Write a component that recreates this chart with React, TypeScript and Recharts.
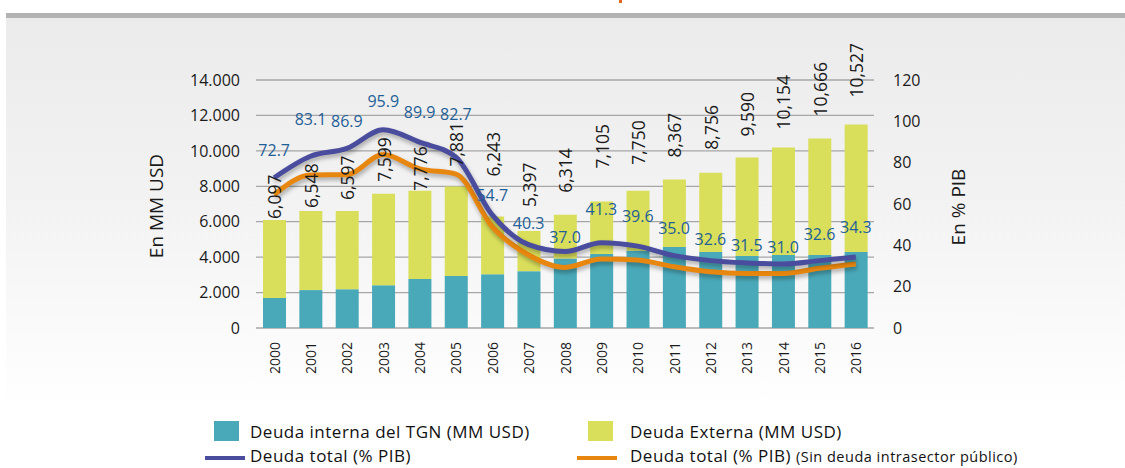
import React from 'react';
import {
  ComposedChart,
  Bar,
  Line,
  XAxis,
  YAxis,
  CartesianGrid,
  LabelList
} from 'recharts';

const years = ['2000', '2001', '2002', '2003', '2004', '2005', '2006', '2007', '2008', '2009', '2010', '2011', '2012', '2013', '2014', '2015', '2016'];
const deudaInterna = [1700, 2140, 2190, 2420, 2760, 2930, 3040, 3210, 3930, 4180, 4360, 4570, 4290, 4060, 4120, 4120, 4290];
const deudaExterna = [4400, 4470, 4410, 5160, 4990, 5060, 3250, 2270, 2460, 2960, 3390, 3820, 4480, 5560, 6070, 6580, 7200];
const totalLabels = ['6,097', '6,548', '6,597', '7,599', '7,776', '7,881', '6,243', '5,397', '6,314', '7,105', '7,750', '8,367', '8,756', '9,590', '10,154', '10,666', '10,527'];
const deudaTotalPib = [72.7, 83.1, 86.9, 95.9, 89.9, 82.7, 54.7, 40.3, 37.0, 41.3, 39.6, 35.0, 32.6, 31.5, 31.0, 32.6, 34.3];
const deudaSinIntra = [64.5, 74.0, 74.2, 83.9, 77.0, 74.5, 49.0, 35.3, 29.3, 33.4, 32.9, 29.6, 27.2, 26.4, 26.4, 28.9, 31.0];
const leftTicks = [0, 2000, 4000, 6000, 8000, 10000, 12000, 14000];
const rightTicks = [0, 20, 40, 60, 80, 100, 120];

// hand nudges for the data labels (the source had them dragged around by hand)
const pibLabelLift = [28, 37, 27, 29, 30, 43, 20, 22, 15, 34, 30, 28, 22, 18, 17, 27, 30];
const totalLabelGap = [1, 3, 11, 12, 0, 20, 40, 24, 22, 33, 26, 22, 23, 21, 18, 22, 27];

const data = years.map((year, i) => ({
  year,
  interna: deudaInterna[i],
  externa: deudaExterna[i],
  total: totalLabels[i],
  pib: deudaTotalPib[i],
  pibSin: deudaSinIntra[i],
}));

const FONT = '"Open Sans", sans-serif';
const TEAL = '#4aa9b9';
const LIME = '#d9df5b';
const BLUE = '#4a4c9d';
const ORANGE = '#e8870f';

const fmtThousands = (v: number) => String(v).replace(/\B(?=(\d{3})+(?!\d))/g, '.');

const YearTick = (props: any) => {
  const { x, y, payload } = props;
  return (
    <text
      x={x}
      y={y}
      transform={`rotate(-90 ${x} ${y})`}
      textAnchor="end"
      dominantBaseline="central"
      fontFamily={FONT}
      fontSize={14}
      fill="#1a1a1a"
    >
      {payload.value}
    </text>
  );
};

const TotalLabel = (props: any) => {
  const { x, y, width, value, index } = props;
  const cx = x + width / 2;
  const cy = y - (totalLabelGap[index] ?? 20);
  return (
    <text
      x={cx}
      y={cy}
      transform={`rotate(-90 ${cx} ${cy})`}
      textAnchor="start"
      dominantBaseline="central"
      fontFamily={FONT}
      fontSize={17.5}
      fill="#1a1a1a"
    >
      {value}
    </text>
  );
};

const PibLabel = (props: any) => {
  const { x, y, value, index } = props;
  return (
    <text
      x={x}
      y={y - (pibLabelLift[index] ?? 27)}
      textAnchor="middle"
      dominantBaseline="central"
      fontFamily={FONT}
      fontSize={16}
      fill="#1f5e96"
    >
      {Number(value).toFixed(1)}
    </text>
  );
};

const legendText: React.CSSProperties = {
  position: 'absolute',
  fontFamily: FONT,
  fontSize: 17,
  letterSpacing: 0.5,
  color: '#111',
  lineHeight: '18px',
  whiteSpace: 'nowrap',
};

export default function App() {
  return (
    <div style={{ position: 'relative', width: 1125, height: 468, background: '#fff', overflow: 'hidden' }}>
      <style>{`body{margin:0}
        .shadow-line .recharts-line-curve { filter: drop-shadow(1px 3px 2px rgba(0,0,0,0.3)); }`}</style>
      <div style={{ position: 'absolute', left: 619, top: 0, width: 3, height: 3, background: '#e0651d' }} />
      <div style={{ position: 'absolute', left: 6, top: 13, width: 1119, height: 5, background: '#b3b3b3' }} />
      <div
        style={{
          position: 'absolute',
          left: 6,
          top: 18,
          width: 1119,
          height: 390,
          background: 'linear-gradient(to bottom, #ebebeb 0%, #f3f3f3 50%, #ffffff 100%)',
        }}
      />
      <div style={{ position: 'absolute', left: 0, top: 0 }}>
        <ComposedChart width={1125} height={468} data={data} margin={{ top: 80, right: 0, bottom: 80, left: 0 }}>
          <CartesianGrid yAxisId="left" vertical={false} stroke="#a6a6a6" strokeWidth={1.3} />
          <XAxis
            dataKey="year"
            height={60}
            axisLine={false}
            tickLine={false}
            tickSize={0}
            tickMargin={14}
            interval={0}
            tick={<YearTick />}
          />
          <YAxis
            yAxisId="left"
            width={256}
            domain={[0, 14000]}
            ticks={leftTicks}
            tickFormatter={fmtThousands}
            axisLine={false}
            tickLine={false}
            tickSize={0}
            tickMargin={16}
            tick={{ fontFamily: FONT, fontSize: 16, fill: '#1a1a1a' }}
            label={{
              content: ({ viewBox }: any) => {
                const cx = viewBox.x + viewBox.width - 100;
                const cy = viewBox.y + viewBox.height / 2 + 2;
                return (
                  <text x={cx} y={cy} transform={`rotate(-90 ${cx} ${cy})`} textAnchor="middle" dominantBaseline="central" fontFamily={FONT} fontSize={19} fill="#1a1a1a">
                    En MM USD
                  </text>
                );
              },
            }}
          />
          <YAxis
            yAxisId="right"
            orientation="right"
            width={251}
            domain={[0, 120]}
            ticks={rightTicks}
            axisLine={false}
            tickLine={false}
            tickSize={0}
            tickMargin={19}
            tick={{ fontFamily: FONT, fontSize: 16, fill: '#1a1a1a' }}
            label={{
              content: ({ viewBox }: any) => {
                const cx = viewBox.x + 84;
                const cy = viewBox.y + viewBox.height / 2 + 3;
                return (
                  <text x={cx} y={cy} transform={`rotate(-90 ${cx} ${cy})`} textAnchor="middle" dominantBaseline="central" fontFamily={FONT} fontSize={19} fill="#1a1a1a">
                    En % PIB
                  </text>
                );
              },
            }}
          />
          <Bar yAxisId="left" dataKey="interna" stackId="deuda" fill={TEAL} barSize={23} isAnimationActive={false} />
          <Bar yAxisId="left" dataKey="externa" stackId="deuda" fill={LIME} barSize={23} isAnimationActive={false}>
            <LabelList dataKey="total" content={<TotalLabel />} />
          </Bar>
          <Line
            yAxisId="right"
            className="shadow-line"
            type="monotone"
            dataKey="pibSin"
            stroke={ORANGE}
            strokeWidth={5}
            dot={false}
            activeDot={false}
            isAnimationActive={false}
          />
          <Line
            yAxisId="right"
            className="shadow-line"
            type="monotone"
            dataKey="pib"
            stroke={BLUE}
            strokeWidth={5}
            dot={false}
            activeDot={false}
            isAnimationActive={false}
          >
            <LabelList dataKey="pib" content={<PibLabel />} />
          </Line>
        </ComposedChart>
      </div>

      <div style={{ position: 'absolute', left: 214, top: 421, width: 25, height: 20, background: TEAL }} />
      <div style={{ ...legendText, left: 250, top: 423 }}>Deuda interna del TGN (MM USD)</div>
      <div style={{ position: 'absolute', left: 588, top: 421, width: 25, height: 20, background: LIME }} />
      <div style={{ ...legendText, left: 630, top: 423 }}>Deuda Externa (MM USD)</div>
      <div style={{ position: 'absolute', left: 205, top: 456, width: 40, height: 4, background: BLUE }} />
      <div style={{ ...legendText, left: 250, top: 447 }}>Deuda total (% PIB)</div>
      <div style={{ position: 'absolute', left: 577, top: 456, width: 40, height: 4, background: ORANGE }} />
      <div style={{ ...legendText, left: 630, top: 447 }}>
        Deuda total (% PIB) <span style={{ fontSize: 14.5 }}>(Sin deuda intrasector público)</span>
      </div>
    </div>
  );
}
